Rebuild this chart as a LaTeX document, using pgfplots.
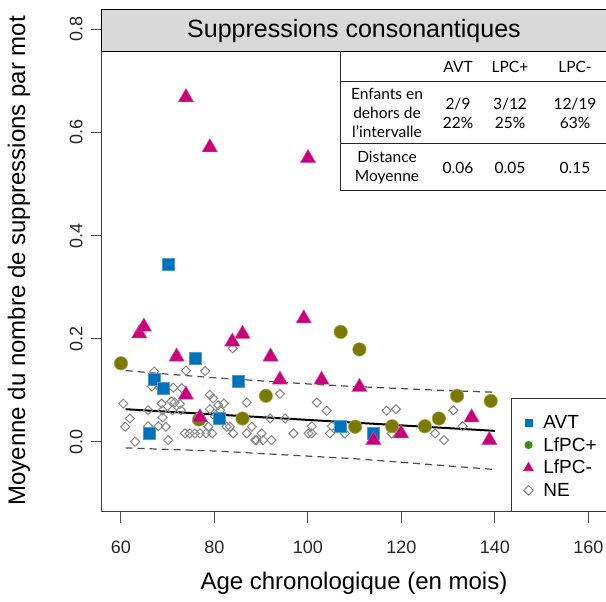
\documentclass[border=0pt]{standalone}
\usepackage{pgfplots}
\pgfplotsset{compat=1.18}
\usepackage{pgfplotstable}
\usepackage{fontspec}
\setmainfont{Liberation Sans}
\newfontfamily\tabfont{Lato}

\definecolor{avt}{RGB}{0,114,188}
\definecolor{lfpp}{RGB}{122,122,0}
\definecolor{lfppedge}{RGB}{165,165,70}
\definecolor{lfpm}{RGB}{200,0,122}
\definecolor{negrey}{RGB}{136,136,136}
\definecolor{leggreen}{RGB}{62,140,20}
\definecolor{strip}{RGB}{217,217,217}

% AVT
\pgfplotstableread{
x y
70.1 0.345
76.0 0.162
67.1 0.122
69.0 0.104
85.1 0.117
81.0 0.045
66.0 0.016
107.0 0.029
114.0 0.016
}\avt

% LfPC+
\pgfplotstableread{
x y
60.0 0.152
76.7 0.043
86.0 0.045
91.0 0.089
107.0 0.213
111.0 0.179
110.1 0.029
118.0 0.030
125.0 0.030
128.0 0.045
131.9 0.089
139.1 0.079
}\lfpplus

% LfPC-
\pgfplotstableread{
x y
73.9 0.668
79.0 0.571
100.0 0.550
63.9 0.210
64.9 0.223
71.9 0.165
73.9 0.091
76.9 0.047
83.8 0.194
86.0 0.209
92.0 0.165
94.0 0.120
99.1 0.239
102.9 0.120
111.0 0.106
114.0 0.003
119.9 0.016
135.0 0.047
138.8 0.003
}\lfpminus

% NE
\pgfplotstableread{
x y
60.5 0.074
61.9 0.045
60.9 0.029
63.0 0.000
65.8 0.061
65.8 0.030
66.6 0.107
67.1 0.136
68.3 0.105
68.7 0.074
68.9 0.061
68.9 0.047
68.0 0.030
69.6 0.029
70.1 0.003
70.8 0.078
71.5 0.076
72.6 0.073
71.0 0.061
72.8 0.061
71.2 0.105
73.0 0.104
73.9 0.138
78.0 0.137
73.7 0.016
74.7 0.016
75.8 0.016
76.9 0.016
78.2 0.016
79.5 0.016
79.0 0.091
79.7 0.084
80.8 0.071
79.0 0.063
81.2 0.061
80.1 0.049
82.0 0.074
78.7 0.029
82.6 0.029
83.3 0.029
84.0 0.016
83.9 0.181
86.9 0.076
86.9 0.016
88.0 0.029
88.7 0.003
89.0 0.003
90.1 0.016
90.4 0.003
92.2 0.003
91.9 0.045
95.1 0.045
94.0 0.093
96.9 0.016
100.1 0.016
100.8 0.016
100.8 0.030
101.9 0.076
104.0 0.060
104.7 0.016
105.1 0.030
107.9 0.016
116.8 0.060
118.8 0.063
117.9 0.016
127.2 0.016
129.1 0.003
131.1 0.061
133.1 0.030
}\ne

\begin{document}
\begin{tikzpicture}
\begin{axis}[
  at={(0pt,0pt)}, anchor=south west,
  scale only axis, width=510pt, height=501.7pt,
  xmin=55.94, xmax=165.03, ymin=-0.1358, ymax=0.8375,
  xtick={60,80,100,120,140,160},
  ytick={0,0.2,0.4,0.6,0.8},
  yticklabels={0.0,0.2,0.4,0.6,0.8},
  tick pos=left, tick align=outside, major tick length=11pt,
  tick style={black!70, line width=1pt},
  axis line style={black!75, line width=1pt},
  /pgf/number format/assume math mode=true,
  ticklabel style={font=\fontsize{18}{18}\selectfont, text=black!85},
  xticklabel shift=15pt,
  yticklabel style={rotate=90, anchor=south},
  yticklabel shift=5pt,
  xlabel={Age chronologique (en mois)},
  ylabel={Moyenne du nombre de suppressions par mot},
  label style={font=\fontsize{24}{24}\selectfont},
  xlabel style={at={(axis description cs:0.494,-0.1421)}, anchor=center},
  ylabel style={at={(axis description cs:-0.1627,0.5)}, anchor=center},
  legend cell align=left,
  legend style={at={(axis description cs:0.8265,0.1927)}, anchor=north west,
    draw=none, fill=none, inner sep=0pt, row sep=7.6pt, column sep=10pt,
    font=\fontsize{19}{22}\selectfont, nodes={inner sep=0pt}},
]
% regression line and prediction band
\addplot[forget plot, black, line width=2pt] coordinates {(61,0.063)(140,0.021)};
\addplot[forget plot, black!70, line width=1.2pt, dash pattern=on 7pt off 5pt] coordinates {
(61,0.138)(70,0.131)(80,0.124)(90,0.118)(100,0.112)(110,0.107)(120,0.103)(130,0.099)(140,0.096)};
\addplot[forget plot, black!70, line width=1.2pt, dash pattern=on 7pt off 5pt] coordinates {
(61,-0.012)(70,-0.015)(80,-0.018)(90,-0.023)(100,-0.028)(110,-0.033)(120,-0.040)(130,-0.047)(140,-0.054)};

\addplot[forget plot, only marks, mark=square, mark size=3.2pt, negrey, line width=1pt,
  mark options={rotate=45}] table {\ne};
\addplot[forget plot, only marks, mark=square*, mark size=6pt, avt, mark options={draw=avt!70!white, line width=0.6pt}] table {\avt};
\addplot[forget plot, only marks, mark=*, mark size=6.7pt, mark options={fill=lfpp, draw=lfppedge, line width=0.6pt}] table {\lfpplus};
\addplot[forget plot, only marks, mark=triangle*, mark size=8.8pt, mark options={fill=lfpm, draw=lfpm!70!white, line width=0.5pt}] table {\lfpminus};

\draw[black!80, line width=1pt, fill=white] (rel axis cs:0.8039,0) rectangle (rel axis cs:1.1,0.2266);

\addlegendimage{only marks, mark=square*, mark size=3.5pt, avt}
\addlegendentry{AVT}
\addlegendimage{only marks, mark=*, mark size=3.8pt, leggreen}
\addlegendentry{LfPC+}
\addlegendimage{only marks, mark=triangle*, mark size=5.5pt, lfpm}
\addlegendentry{LfPC-}
\addlegendimage{only marks, mark=square, mark size=3.4pt, negrey, line width=1pt, mark options={rotate=45}}
\addlegendentry{NE}
\end{axis}

% strip title
\draw[black, line width=1pt, fill=strip] (0,459.7pt) rectangle (530pt,501.7pt);
\node[font=\fontsize{25}{25}\selectfont] at (252pt,480.7pt) {Suppressions consonantiques};

% table
\fill[white] (238pt,320.7pt) rectangle (530pt,459.2pt);
\draw[black!85, line width=1pt] (238pt,459.7pt) -- (238pt,320.7pt);
\draw[black!85, line width=1pt] (238pt,429.7pt) -- (530pt,429.7pt);
\draw[black!85, line width=1pt] (238pt,367.7pt) -- (530pt,367.7pt);
\draw[black!85, line width=1pt] (238pt,320.7pt) -- (530pt,320.7pt);
\begin{scope}[every node/.style={font=\tabfont\fontsize{15.5}{19}\selectfont, align=center, inner sep=0pt}]
\node at (356pt,444.7pt) {AVT};
\node at (408pt,444.7pt) {LPC+};
\node at (473pt,444.7pt) {LPC-};
\node at (285pt,398.7pt) {Enfants en\\dehors de\\l’intervalle};
\node at (356pt,398.7pt) {2/9\\22\%};
\node at (408pt,398.7pt) {3/12\\25\%};
\node at (473pt,398.7pt) {12/19\\63\%};
\node at (285pt,344.2pt) {Distance\\Moyenne};
\node at (356pt,344.2pt) {0.06};
\node at (408pt,344.2pt) {0.05};
\node at (473pt,344.2pt) {0.15};
\end{scope}

\pgfresetboundingbox
\useasboundingbox (-102pt,-90.3pt) rectangle (504pt,511.7pt);
\end{tikzpicture}
\end{document}
